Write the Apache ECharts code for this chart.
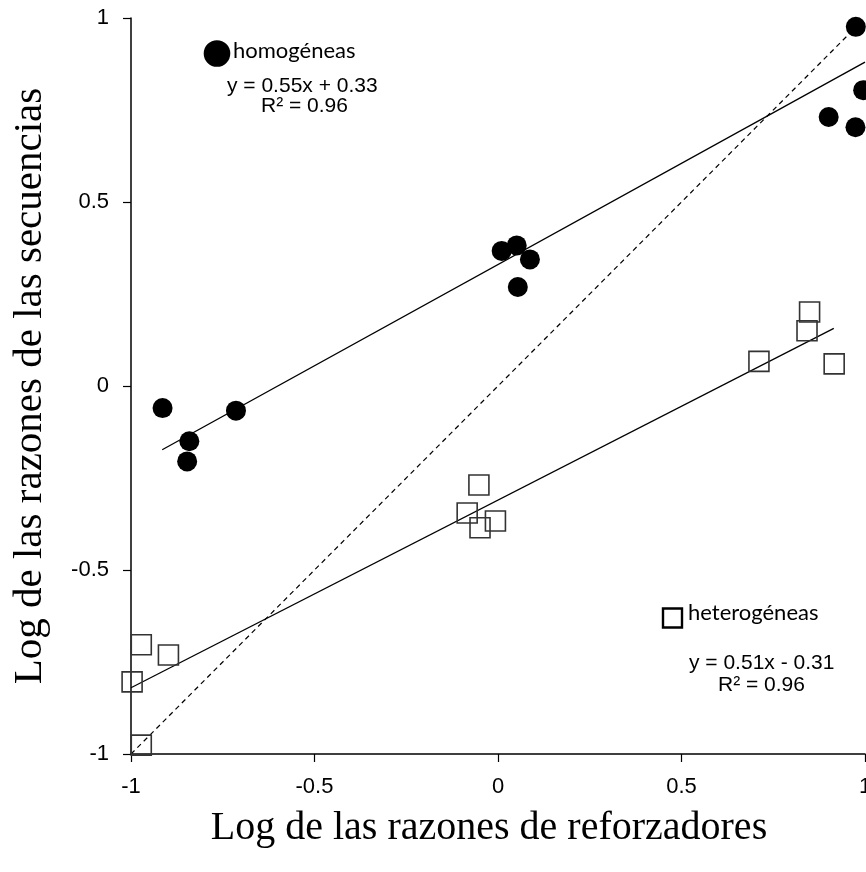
<!DOCTYPE html>
<html>
<head>
<meta charset="utf-8">
<script src="https://cdn.jsdelivr.net/npm/echarts@6/dist/echarts.min.js"></script>
<style>html,body{margin:0;padding:0;background:#fff}#c{width:866px;height:872px}</style>
</head>
<body>
<div id="c"></div>
<script>
// Data
const homX = [-0.914, -0.714, -0.841, -0.847, 0.010, 0.051, 0.087, 0.054, 0.975, 0.995, 0.901, 0.974];
const homY = [-0.060, -0.067, -0.150, -0.205, 0.367, 0.382, 0.344, 0.269, 0.976, 0.804, 0.731, 0.703];
const hetX = [-0.052, -0.084, -0.049, -0.007, 0.849, 0.842, 0.711, 0.916, -0.972, -0.898, -0.997, -0.972];
const hetY = [-0.269, -0.345, -0.385, -0.367, 0.201, 0.150, 0.067, 0.060, -0.703, -0.731, -0.804, -0.976];
// Trendlines: [slope, intercept], x ranges
const homFit = [0.55, 0.33];
const hetFit = [0.51, -0.31];
const homRange = [-0.915, 1.0];
const hetRange = [-1.0, 0.915];
const identityRange = [-1.0, 0.98];
const xTicks = [-1, -0.5, 0, 0.5, 1];
const yTicks = [-1, -0.5, 0, 0.5, 1];
const xTitle = 'Log de las razones de reforzadores';
const yTitle = 'Log de las razones de las secuencias';
const homLabel = 'homogéneas';
const hetLabel = 'heterogéneas';
const homEq = ['y = 0.55x + 0.33', 'R² = 0.96'];
const hetEq = ['y = 0.51x - 0.31', 'R² = 0.96'];

const zip = (xs, ys) => xs.map((x, i) => [x, ys[i]]);
const fitLine = (f, r) => r.map(x => [x, f[0] * x + f[1]]);

const chart = echarts.init(document.getElementById('c'), null, {renderer: 'canvas'});
const axisCommon = {
  min: -1, max: 1, interval: 0.5,
  axisLine: {show: true, onZero: false, lineStyle: {color: '#000', width: 1.5}},
  axisTick: {show: true, inside: false, length: 8, lineStyle: {color: '#000', width: 1.2}},
  splitLine: {show: false}
};
const eqFont = '21px "Liberation Sans"';
const lblFont = '22px Lato';
chart.setOption({
  animation: false,
  backgroundColor: '#fff',
  grid: {left: 131, right: 1, top: 18, bottom: 118, containLabel: false, outerBoundsMode: 'none'},
  xAxis: Object.assign({}, axisCommon, {
    type: 'value',
    name: xTitle, nameLocation: 'middle', nameGap: 54,
    nameTextStyle: {fontFamily: 'Liberation Serif', fontSize: 40, color: '#000', padding: [0, 18, 0, 0]},
    axisLabel: {fontFamily: 'Liberation Sans', fontSize: 22, color: '#000', margin: 22,
      formatter: v => (xTicks.includes(v) ? String(v) : '')}
  }),
  yAxis: Object.assign({}, axisCommon, {
    type: 'value',
    name: yTitle, nameLocation: 'middle', nameGap: 80,
    nameTextStyle: {fontFamily: 'Liberation Serif', fontSize: 41, color: '#000'},
    axisLabel: {fontFamily: 'Liberation Sans', fontSize: 22, color: '#000', margin: 22,
      formatter: v => (yTicks.includes(v) ? String(v) : '')}
  }),
  series: [
    {type: 'line', data: fitLine([1, 0], identityRange), symbol: 'none', silent: true,
      lineStyle: {color: '#000', width: 1.2, type: [5, 4]}, z: 2},
    {type: 'line', data: fitLine(homFit, homRange), symbol: 'none', silent: true,
      lineStyle: {color: '#000', width: 1.3}, z: 2},
    {type: 'line', data: fitLine(hetFit, hetRange), symbol: 'none', silent: true,
      lineStyle: {color: '#000', width: 1.3}, z: 2},
    {type: 'scatter', name: homLabel, data: zip(homX, homY), symbol: 'circle', symbolSize: 20,
      itemStyle: {color: '#000', opacity: 1}, z: 3},
    {type: 'scatter', name: hetLabel, data: zip(hetX, hetY), symbol: 'rect', symbolSize: 20,
      itemStyle: {color: 'rgba(0,0,0,0)', borderColor: '#333', borderWidth: 1.6, opacity: 1}, z: 3}
  ],
  graphic: [
    {type: 'circle', shape: {cx: 217, cy: 53.5, r: 13.3}, style: {fill: '#000'}},
    {type: 'text', x: 233, y: 51, style: {text: homLabel, font: lblFont, fill: '#000', verticalAlign: 'middle'}},
    {type: 'text', x: 227, y: 86, style: {text: homEq[0], font: eqFont, fill: '#000', verticalAlign: 'middle'}},
    {type: 'text', x: 261, y: 106, style: {text: homEq[1], font: eqFont, fill: '#000', verticalAlign: 'middle'}},
    {type: 'rect', shape: {x: 663, y: 608.5, width: 19, height: 19}, style: {fill: 'none', stroke: '#000', lineWidth: 2.4}},
    {type: 'text', x: 688, y: 613, style: {text: hetLabel, font: lblFont, fill: '#000', verticalAlign: 'middle'}},
    {type: 'text', x: 689, y: 663, style: {text: hetEq[0], font: eqFont, fill: '#000', verticalAlign: 'middle'}},
    {type: 'text', x: 718, y: 685, style: {text: hetEq[1], font: eqFont, fill: '#000', verticalAlign: 'middle'}}
  ]
});
</script>
</body>
</html>
